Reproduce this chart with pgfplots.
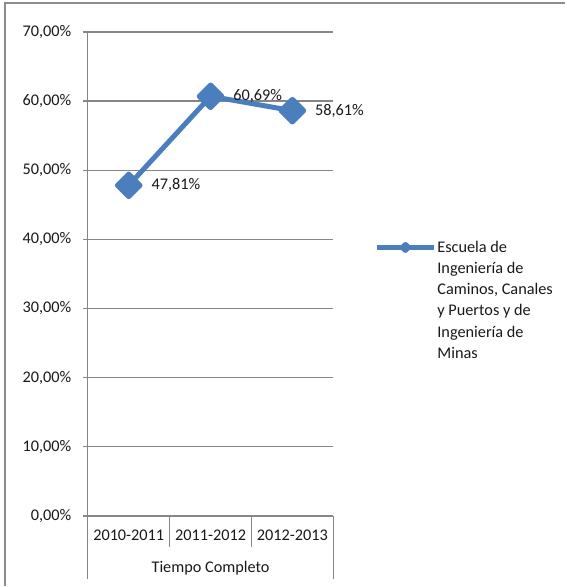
\documentclass[border=0pt]{standalone}
\usepackage{pgfplots}
\pgfplotsset{compat=1.18}
\usepackage{fontspec}
\setmainfont{Carlito}
\definecolor{exblue}{RGB}{74,126,188}
\definecolor{gridc}{RGB}{134,134,134}
\definecolor{framec}{RGB}{140,140,140}
\newcommand{\cf}{\fontsize{16.3}{21.3}\selectfont}
\begin{document}
\begin{tikzpicture}[x=1pt,y=1pt]
\path (0,0) rectangle (566,587);
\draw[framec, line width=2.5pt] (5,0) -- (5,584) -- (566,584);
\begin{axis}[
  at={(88pt,70pt)}, anchor=south west,
  width=246pt, height=485pt, scale only axis,
  xmin=-0.5, xmax=2.5, ymin=0, ymax=70,
  clip=false,
  axis lines*=left,
  axis line style={gridc, line width=1.2pt},
  xtick={0,1,2},
  xticklabels={2010-2011,2011-2012,2012-2013},
  xtick style={draw=none},
  ytick={0,10,20,30,40,50,60,70},
  yticklabels={{0,00\%},{10,00\%},{20,00\%},{30,00\%},{40,00\%},{50,00\%},{60,00\%},{70,00\%}},
  ytick style={gridc, line width=1.2pt},
  tick align=outside,
  major tick length=5pt,
  ymajorgrids,
  grid style={gridc, line width=1.2pt},
  every tick label/.append style={font=\cf, text=black!90},
  yticklabel style={xshift=-8pt},
  xticklabel style={yshift=-6pt},
  legend style={at={(1.155,0.575)}, anchor=north west, draw=none, fill=none,
    font=\cf, text=black!90, nodes={align=left, inner sep=1pt}},
  legend image code/.code={
    \draw[exblue, line width=5pt] (0pt,53pt) -- (57pt,53pt);
    \fill[exblue] (28.5pt,53pt) +(-3pt,0) -- +(0,3pt) -- +(3pt,0) -- +(0,-3pt) -- cycle;
  },
]
\addplot[exblue, line width=5pt, line join=round,
  mark=square*, mark size=8pt, mark options={rotate=45, solid, fill=exblue},
  nodes near coords, point meta=explicit symbolic,
  every node near coord/.append style={anchor=west, xshift=17pt, font=\cf, text=black!90}]
  coordinates {(0,47.81) [47,81\%] (1,60.69) [60,69\%] (2,58.61) [58,61\%]};
\addlegendentry{Escuela de\\Ingeniería de\\Caminos, Canales\\y Puertos y de\\Ingeniería de\\Minas}
\draw[gridc, line width=1.2pt] (axis cs:0.5,0) -- ([yshift=-31pt]axis cs:0.5,0);
\draw[gridc, line width=1.2pt] (axis cs:1.5,0) -- ([yshift=-31pt]axis cs:1.5,0);
\draw[gridc, line width=1.2pt] (axis cs:-0.5,0) -- ([yshift=-63pt]axis cs:-0.5,0);
\draw[gridc, line width=1.2pt] (axis cs:2.5,0) -- ([yshift=-63pt]axis cs:2.5,0);
\node[font=\cf, text=black!90] at ([yshift=-52pt]axis cs:1,0) {Tiempo Completo};
\end{axis}
\end{tikzpicture}
\end{document}
